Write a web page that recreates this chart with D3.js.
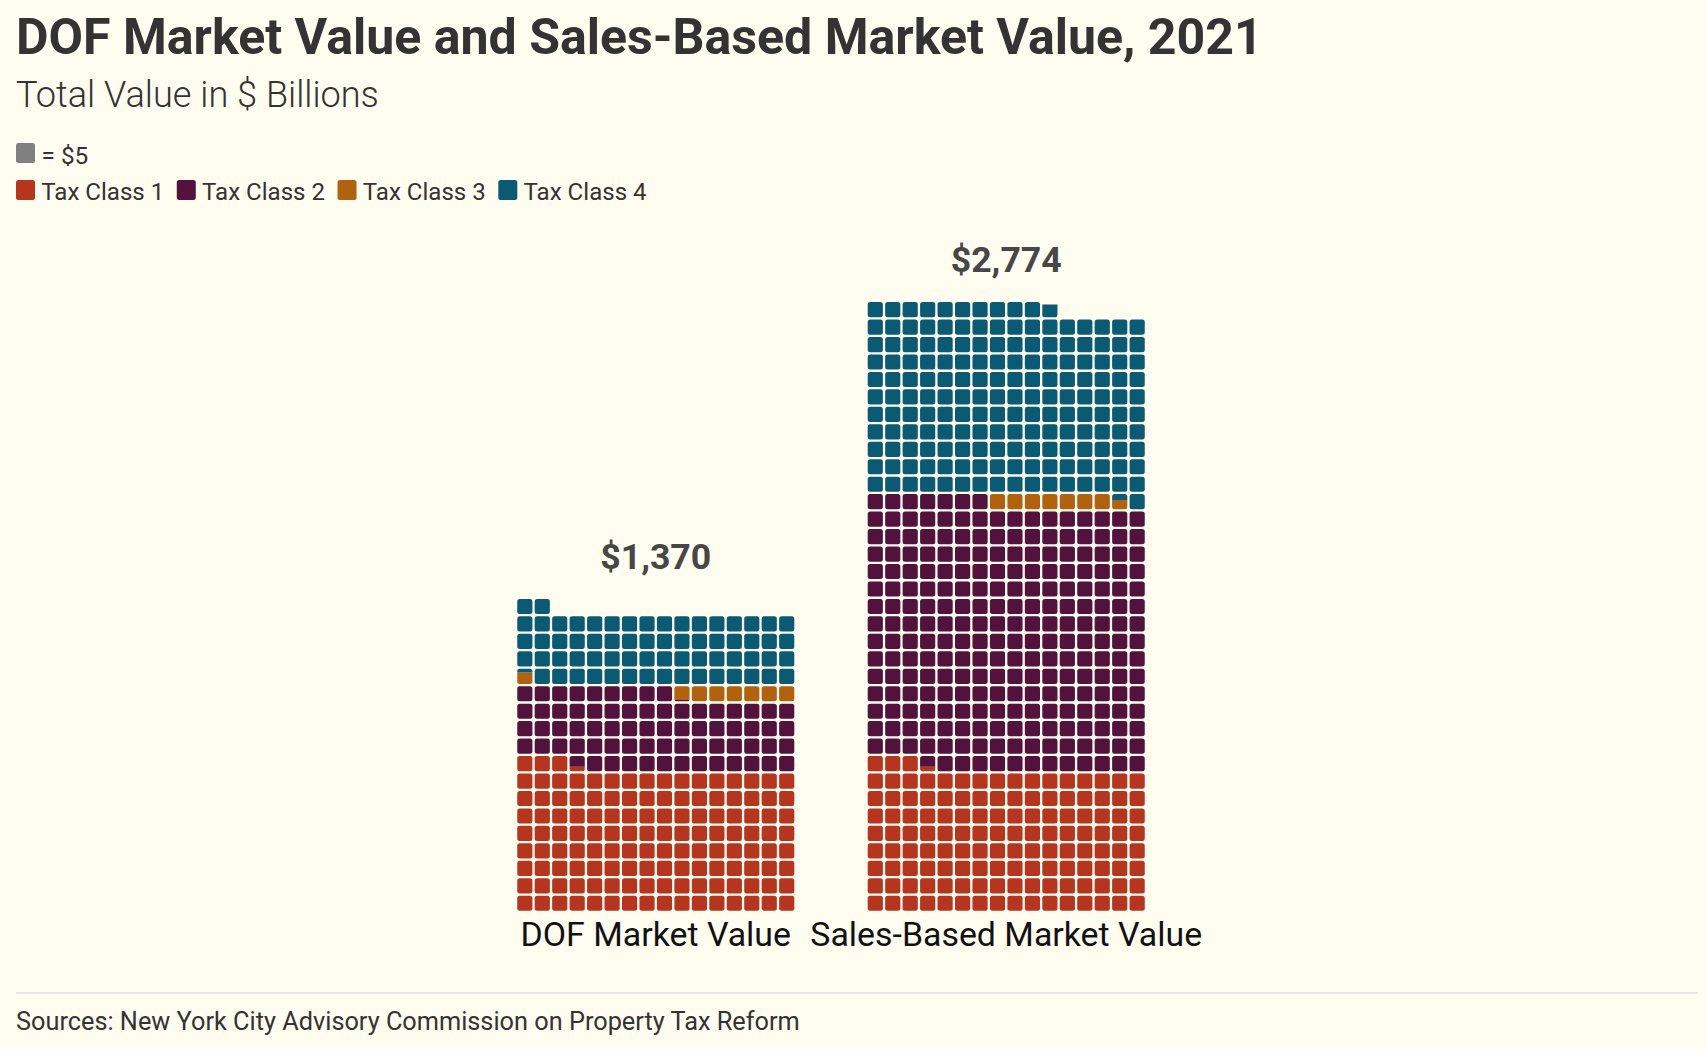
<!DOCTYPE html>
<html>
<head>
<meta charset="utf-8">
<script src="https://cdn.jsdelivr.net/npm/d3@7"></script>
<style>
  html, body { margin: 0; padding: 0; background: #fffdf0; }
  svg { display: block; font-family: Roboto, "Noto Sans", sans-serif; }
</style>
</head>
<body>
<svg id="chart" width="1707" height="1049"></svg>
<script>
// ---------- data ----------
const categories = ["DOF Market Value", "Sales-Based Market Value"];
const taxClasses = ["Tax Class 1", "Tax Class 2", "Tax Class 3", "Tax Class 4"];
const dofValues = [656.6, 349.1, 37.9, 326.4];      // $ billions
const salesValues = [656.6, 1218.4, 38.0, 861.0];   // $ billions
const totalLabels = ["$1,370", "$2,774"];
const classColors = ["#b5351f", "#52123c", "#b0620e", "#0a5a73"];
const unitValue = 5;        // one cell = $5 billion
const cellsPerRow = 16;
const titleText = "DOF Market Value and Sales-Based Market Value, 2021";
const subtitleText = "Total Value in $ Billions";
const sourceText = "Sources: New York City Advisory Commission on Property Tax Reform";

// ---------- setup ----------
const W = 1707, H = 1049;
const svg = d3.select("#chart");
svg.append("rect").attr("width", W).attr("height", H).attr("fill", "#fffdf0");

function fitWidth(sel, target) {
  const fs = parseFloat(sel.attr("font-size"));
  const w = sel.node().getComputedTextLength();
  const nfs = fs * target / w;
  sel.attr("font-size", nfs);
  return nfs;
}

// ---------- header ----------
const title = svg.append("text").attr("x", 16).attr("y", 54)
  .attr("font-size", 46).attr("font-weight", 700).attr("fill", "#333")
  .text(titleText);
fitWidth(title, 1247);

const subtitle = svg.append("text").attr("x", 16).attr("y", 107)
  .attr("font-size", 34).attr("font-weight", 300).attr("fill", "#333")
  .text(subtitleText);
fitWidth(subtitle, 363);

// ---------- legend ----------
svg.append("rect").attr("x", 16).attr("y", 143).attr("width", 19).attr("height", 20)
  .attr("rx", 2.5).attr("fill", "#808080");
const unitText = svg.append("text").attr("x", 41.5).attr("y", 164)
  .attr("font-size", 24).attr("fill", "#333").text("= $" + unitValue);
fitWidth(unitText, 46.8);

let lx = 16;
let legendFs = null;
taxClasses.forEach((name, k) => {
  svg.append("rect").attr("x", lx).attr("y", 180).attr("width", 19).attr("height", 20)
    .attr("rx", 2.5).attr("fill", classColors[k]);
  const t = svg.append("text").attr("x", lx + 25.3).attr("y", 200)
    .attr("font-size", legendFs || 24).attr("fill", "#333").text(name);
  if (legendFs === null) legendFs = fitWidth(t, 123);
  lx = lx + 25.3 + t.node().getComputedTextLength() + 12.5;
});

// ---------- scales ----------
const baseY = 912;
const x = d3.scaleBand().domain(categories).range([446, 1216])
  .paddingInner(0.2029).paddingOuter(0.2);
const pitch = x.bandwidth() / cellsPerRow;
const y = d3.scaleLinear().domain([0, unitValue * cellsPerRow]).range([baseY, baseY - pitch]);
const inset = 1.15;

// ---------- cells ----------
const seriesByCat = [dofValues, salesValues];
const cells = [];
categories.forEach((cat, ci) => {
  let cum = 0;
  seriesByCat[ci].forEach((v, k) => {
    const a = cum / unitValue, b = (cum + v) / unitValue;
    for (let i = Math.floor(a); i < Math.ceil(b); i++) {
      const lo = Math.max(a, i) - i, hi = Math.min(b, i + 1) - i;
      if (hi - lo < 1e-6) continue;
      cells.push({ cat, k, col: i % cellsPerRow, row: Math.floor(i / cellsPerRow), lo, hi });
    }
    cum += v;
  });
});

const defs = svg.append("defs");
const rowVal = unitValue * cellsPerRow;
const g = svg.append("g");
cells.forEach((c, n) => {
  const x0 = x(c.cat) + c.col * pitch;
  const rowBottom = y(c.row * rowVal), rowTop = y((c.row + 1) * rowVal);
  const r = g.append("rect")
    .attr("x", x0 + inset).attr("y", rowTop + inset)
    .attr("width", pitch - 2 * inset).attr("height", rowBottom - rowTop - 2 * inset)
    .attr("rx", 2.5).attr("fill", classColors[c.k]);
  if (c.lo > 1e-6 || c.hi < 1 - 1e-6) {
    const yTop = y((c.row + c.hi) * rowVal), yBot = y((c.row + c.lo) * rowVal);
    defs.append("clipPath").attr("id", "cp" + n)
      .append("rect").attr("x", x0).attr("y", yTop).attr("width", pitch).attr("height", yBot - yTop);
    r.attr("clip-path", "url(#cp" + n + ")");
  }
});

// ---------- total labels ----------
let totFs = null;
categories.forEach((cat, ci) => {
  const total = d3.sum(seriesByCat[ci]);
  const rows = Math.ceil(total / rowVal - 1e-6);
  const t = svg.append("text")
    .attr("x", x(cat) + x.bandwidth() / 2).attr("y", y(rows * rowVal) - 28.8)
    .attr("text-anchor", "middle").attr("font-weight", 700).attr("fill", "#474747")
    .attr("font-size", totFs || 34).text(totalLabels[ci]);
  if (totFs === null) totFs = fitWidth(t, 111);
});

// ---------- category labels ----------
const catLabels = categories.map(cat => svg.append("text")
  .attr("x", x(cat) + x.bandwidth() / 2).attr("y", 946)
  .attr("text-anchor", "middle").attr("fill", "#111").attr("font-size", 31).text(cat));
const catFs = fitWidth(catLabels[1], 392);
catLabels[0].attr("font-size", catFs);

// ---------- footer ----------
svg.append("line").attr("x1", 16).attr("x2", 1698).attr("y1", 993).attr("y2", 993)
  .attr("stroke", "#dedede").attr("stroke-width", 1.5);
const src = svg.append("text").attr("x", 16).attr("y", 1030)
  .attr("font-size", 23).attr("fill", "#333").text(sourceText);
fitWidth(src, 784);
</script>
</body>
</html>
